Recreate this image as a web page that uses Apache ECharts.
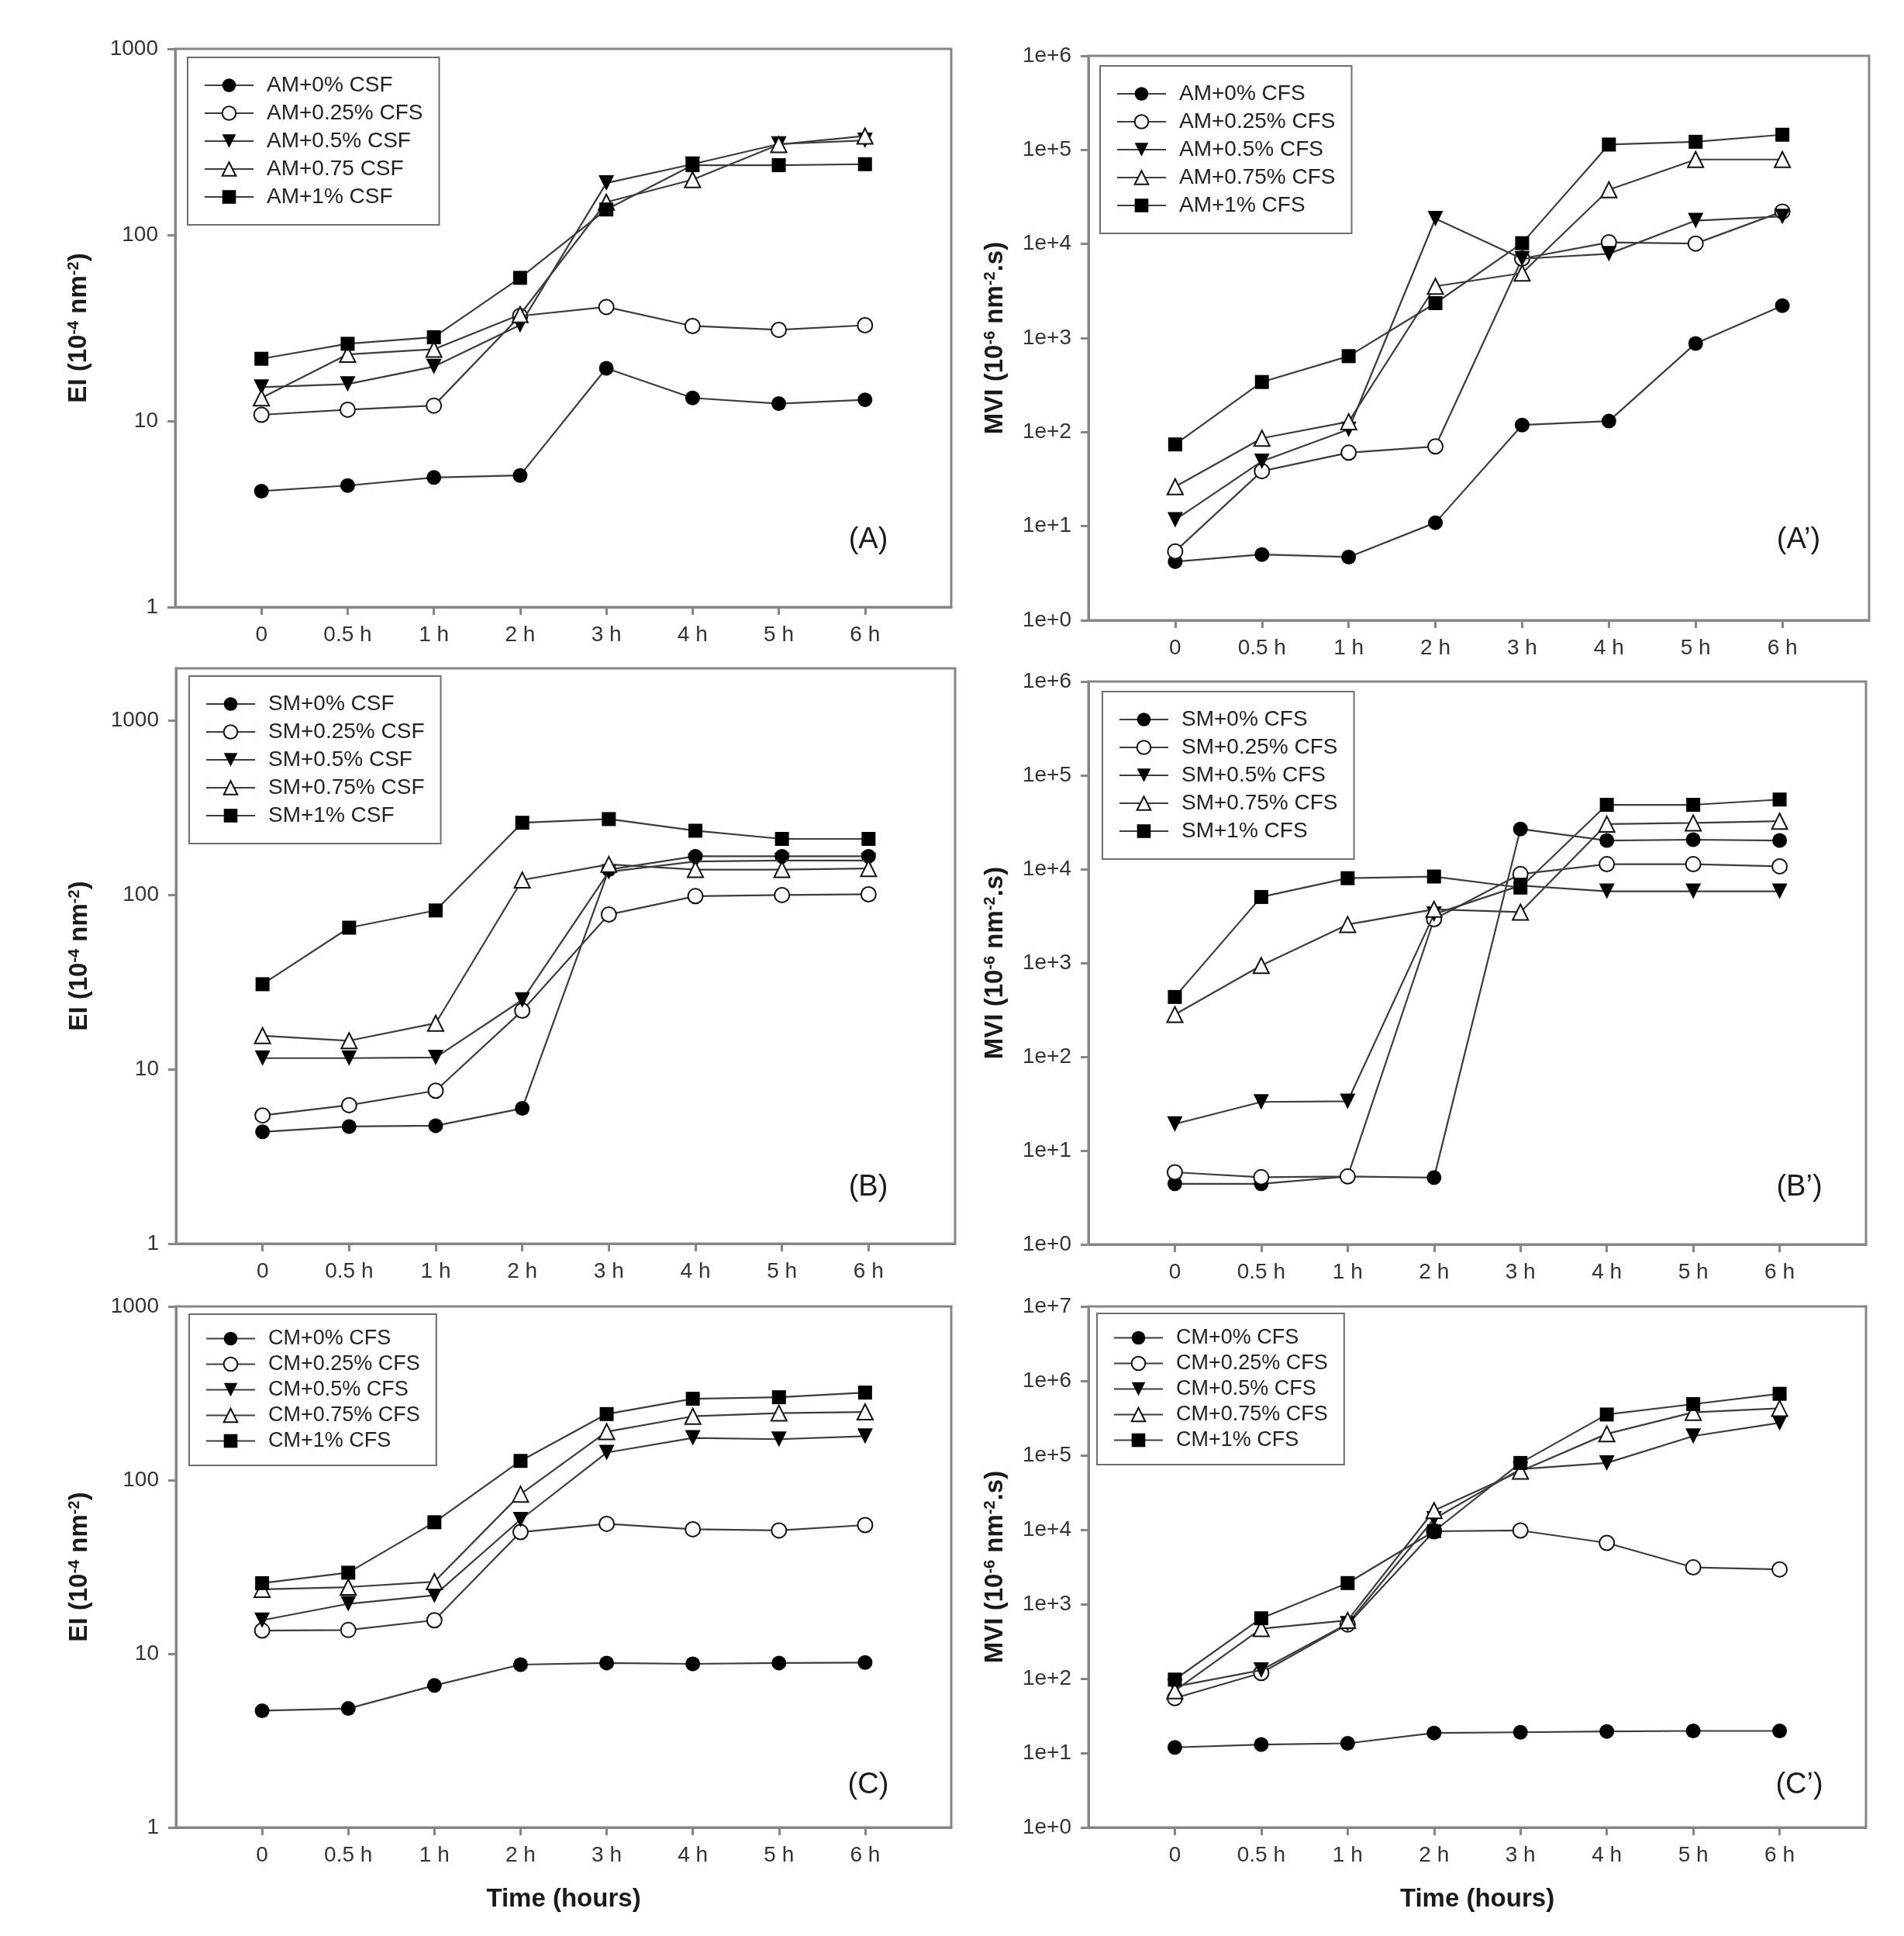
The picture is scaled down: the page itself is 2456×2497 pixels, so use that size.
<!DOCTYPE html>
<html>
<head>
<meta charset="utf-8">
<script src="https://cdn.jsdelivr.net/npm/echarts@6/dist/echarts.min.js"></script>
<style>
  html, body { margin: 0; background: #fff; }
  #chart { width: 2456px; height: 2497px; }
</style>
</head>
<body>
<div id="chart"></div>
<script>
const timeLabels = ["0", "0.5 h", "1 h", "2 h", "3 h", "4 h", "5 h", "6 h"];

// (A) EI, AM
const namesA = ["AM+0% CSF", "AM+0.25% CFS", "AM+0.5% CSF", "AM+0.75 CSF", "AM+1% CSF"];
const eiAM0 = [4.2, 4.5, 4.97, 5.1, 19.2, 13.3, 12.4, 13.0];
const eiAM025 = [10.8, 11.5, 12.1, 36.7, 41, 32.4, 30.9, 32.7];
const eiAM05 = [15.2, 15.8, 19.6, 32.8, 190, 240, 308, 322];
const eiAM075 = [13.3, 22.8, 24.3, 37.3, 150, 198, 306, 340];
const eiAM1 = [21.6, 26, 28.2, 58.8, 137, 237, 237, 240];

// (A') MVI, AM
const namesA2 = ["AM+0% CFS", "AM+0.25% CFS", "AM+0.5% CFS", "AM+0.75% CFS", "AM+1% CFS"];
const mviAM0 = [4.2, 5.0, 4.7, 10.9, 119, 131, 877, 2210];
const mviAM025 = [5.4, 38.5, 60.5, 70.4, 7000, 10400, 10100, 22100];
const mviAM05 = [11.7, 49, 107, 18600, 6960, 7860, 17700, 19600];
const mviAM075 = [26.3, 86, 129, 3550, 4900, 37700, 79000, 79000];
const mviAM1 = [74, 341, 642, 2350, 10200, 114000, 122000, 145000];

// (B) EI, SM
const namesB = ["SM+0% CSF", "SM+0.25% CSF", "SM+0.5% CSF", "SM+0.75% CSF", "SM+1% CSF"];
const eiSM0 = [4.38, 4.7, 4.75, 5.97, 140, 167, 167, 167];
const eiSM025 = [5.44, 6.23, 7.54, 21.7, 77.3, 98.6, 100, 101];
const eiSM05 = [11.6, 11.6, 11.7, 25, 136, 156, 158, 158];
const eiSM075 = [15.6, 14.6, 18.4, 122, 150, 140, 140, 142];
const eiSM1 = [30.8, 65, 81.6, 260, 273, 234, 210, 210];

// (B') MVI, SM
const namesB2 = ["SM+0% CFS", "SM+0.25% CFS", "SM+0.5% CFS", "SM+0.75% CFS", "SM+1% CFS"];
const mviSM0 = [4.43, 4.43, 5.3, 5.15, 26800, 20200, 20600, 20200];
const mviSM025 = [5.87, 5.2, 5.3, 2930, 8870, 11300, 11300, 10700];
const mviSM05 = [19.2, 33, 33.5, 3310, 6690, 5810, 5810, 5810];
const mviSM075 = [282, 941, 2570, 3730, 3480, 30200, 31100, 32400];
const mviSM1 = [434, 5050, 8010, 8340, 6360, 48500, 48500, 55200];

// (C) EI, CM
const namesC = ["CM+0% CFS", "CM+0.25% CFS", "CM+0.5% CFS", "CM+0.75% CFS", "CM+1% CFS"];
const eiCM0 = [4.7, 4.84, 6.57, 8.66, 8.85, 8.75, 8.85, 8.9];
const eiCM025 = [13.6, 13.7, 15.6, 50.2, 56, 52.1, 51.3, 55.1];
const eiCM05 = [15.6, 19.4, 21.7, 59.2, 144, 175, 172, 179];
const eiCM075 = [23.5, 24.2, 26, 83, 190, 233, 243, 247];
const eiCM1 = [25.5, 29.3, 57.2, 129, 240, 294, 300, 319];

// (C') MVI, CM
const mviCM0 = [11.9, 13, 13.5, 18.6, 19, 19.5, 19.8, 19.8];
const mviCM025 = [54.5, 119, 534, 9530, 9770, 6650, 3120, 2930];
const mviCM05 = [78, 130, 545, 14000, 65100, 78900, 181000, 273000];
const mviCM075 = [68.6, 469, 606, 18100, 61100, 194000, 377000, 428000];
const mviCM1 = [97, 646, 1920, 9530, 78900, 353000, 487000, 670000];

const FONT = "'Liberation Sans', Arial, sans-serif";
const AXIS_GRAY = "#858585";
const xTicks = [0, 1, 2, 3, 4, 5, 6, 7];

const markers = [
  { symbol: "circle", size: 19, rotate: 0, fill: "#000" },
  { symbol: "circle", size: 19, rotate: 0, fill: "#fff" },
  { symbol: "triangle", size: 20, rotate: 180, fill: "#000" },
  { symbol: "triangle", size: 20, rotate: 0, fill: "#fff" },
  { symbol: "rect", size: 18, rotate: 0, fill: "#000" }
];

const eiName = "{b|EI (10}{s|-4}{b| nm}{s|-2}{b|)}";
const mviName = "{b|MVI (10}{s|-6}{b| nm}{s|-2}{b|.s)}";

const panels = [
  { grid: { left: 226, top: 63, width: 1001, height: 720 }, yMax: 1000, sci: false, names: namesA,
    series: [eiAM0, eiAM025, eiAM05, eiAM075, eiAM1], legend: { left: 242, top: 74 }, big: true,
    tag: "(A)", tagPos: [1120, 697], yName: eiName, xName: false },
  { grid: { left: 1404, top: 72, width: 1007, height: 728 }, yMax: 1e6, sci: true, names: namesA2,
    series: [mviAM0, mviAM025, mviAM05, mviAM075, mviAM1], legend: { left: 1419, top: 85 }, big: true,
    tag: "(A\u2019)", tagPos: [2320, 697], yName: mviName, xName: false },
  { grid: { left: 227, top: 862, width: 1005, height: 742 }, yMax: 2000, sci: false, names: namesB,
    series: [eiSM0, eiSM025, eiSM05, eiSM075, eiSM1], legend: { left: 244, top: 872 }, big: true,
    tag: "(B)", tagPos: [1120, 1532], yName: eiName, xName: false },
  { grid: { left: 1404, top: 879, width: 1003, height: 726 }, yMax: 1e6, sci: true, names: namesB2,
    series: [mviSM0, mviSM025, mviSM05, mviSM075, mviSM1], legend: { left: 1422, top: 892 }, big: true,
    tag: "(B\u2019)", tagPos: [2321, 1532], yName: mviName, xName: false },
  { grid: { left: 227, top: 1685, width: 1000, height: 672 }, yMax: 1000, sci: false, names: namesC,
    series: [eiCM0, eiCM025, eiCM05, eiCM075, eiCM1], legend: { left: 244, top: 1695 }, big: false,
    tag: "(C)", tagPos: [1120, 2303], yName: eiName, xName: true },
  { grid: { left: 1404, top: 1685, width: 1003, height: 672 }, yMax: 1e7, sci: true, names: namesC,
    series: [mviCM0, mviCM025, mviCM05, mviCM075, mviCM1], legend: { left: 1415, top: 1694 }, big: false,
    tag: "(C\u2019)", tagPos: [2321, 2303], yName: mviName, xName: true }
];

const grids = [], xAxes = [], yAxes = [], legends = [], series = [], graphics = [];

panels.forEach((p, gi) => {
  grids.push(Object.assign({
    show: true, borderColor: AXIS_GRAY, borderWidth: 3, outerBoundsMode: "none"
  }, p.grid));

  xAxes.push({
    type: "value", gridIndex: gi, min: -1, max: 8, interval: 1,
    name: p.xName ? "Time (hours)" : "", nameLocation: "middle", nameGap: 76,
    nameTextStyle: { fontFamily: FONT, fontSize: 33, fontWeight: "bold", color: "#1a1a1a" },
    axisLine: { onZero: false, lineStyle: { color: AXIS_GRAY, width: 3 } },
    axisTick: { customValues: xTicks, length: 10, lineStyle: { color: AXIS_GRAY, width: 3 } },
    axisLabel: { customValues: xTicks, margin: 22, fontFamily: FONT, fontSize: 28, color: "#333",
      formatter: v => timeLabels[v] },
    splitLine: { show: false }
  });

  const decades = [];
  for (let v = 1; v <= p.yMax; v *= 10) decades.push(v);
  yAxes.push({
    type: "log", logBase: 10, gridIndex: gi, min: 1, max: p.yMax,
    name: p.yName, nameLocation: "middle", nameGap: p.sci ? 104 : 108,
    nameTextStyle: {
      color: "#1a1a1a",
      rich: {
        b: { fontFamily: FONT, fontSize: 33, fontWeight: "bold", color: "#1a1a1a" },
        s: { fontFamily: FONT, fontSize: 20, fontWeight: "bold", color: "#1a1a1a", verticalAlign: "top" }
      }
    },
    axisLine: { show: true, onZero: false, lineStyle: { color: AXIS_GRAY, width: 3 } },
    axisTick: { show: true, customValues: decades, length: 10, lineStyle: { color: AXIS_GRAY, width: 3 } },
    axisLabel: { customValues: decades, margin: 22, fontFamily: FONT, fontSize: 28, color: "#333",
      formatter: v => p.sci ? "1e+" + Math.round(Math.log10(v)) : String(Math.round(v)) },
    splitLine: { show: false }
  });

  legends.push({
    orient: "vertical", left: p.legend.left, top: p.legend.top,
    data: p.names, selectedMode: false,
    borderColor: "#6e6e6e", borderWidth: 2, backgroundColor: "#fff",
    padding: [p.big ? 22 : 18, 21],
    itemWidth: 63, itemHeight: 22, itemGap: p.big ? 8 : 6,
    textStyle: { fontFamily: FONT, fontSize: p.big ? 28 : 27, color: "#222", padding: [0, 0, 0, 12] }
  });

  p.series.forEach((vals, si) => {
    const m = markers[si];
    series.push({
      type: "line", name: p.names[si], xAxisIndex: gi, yAxisIndex: gi,
      data: vals.map((v, i) => [i, v]),
      symbol: m.symbol, symbolSize: m.size, symbolRotate: m.rotate, showAllSymbol: true,
      lineStyle: { color: "#3c3c3c", width: 2.2 },
      itemStyle: { color: m.fill, borderColor: "#111", borderWidth: m.fill === "#fff" ? 2 : 0 },
      emphasis: { disabled: true },
      z: 2 + si
    });
  });

  graphics.push({
    type: "text", x: p.tagPos[0], y: p.tagPos[1],
    style: { text: p.tag, fontFamily: FONT, fontSize: 38, fill: "#1a1a1a", align: "center", verticalAlign: "middle" }
  });
});

const chart = echarts.init(document.getElementById("chart"), null, { renderer: "canvas" });
chart.setOption({
  backgroundColor: "#fff",
  animation: false,
  grid: grids,
  xAxis: xAxes,
  yAxis: yAxes,
  legend: legends,
  series: series,
  graphic: graphics
});
</script>
</body>
</html>
